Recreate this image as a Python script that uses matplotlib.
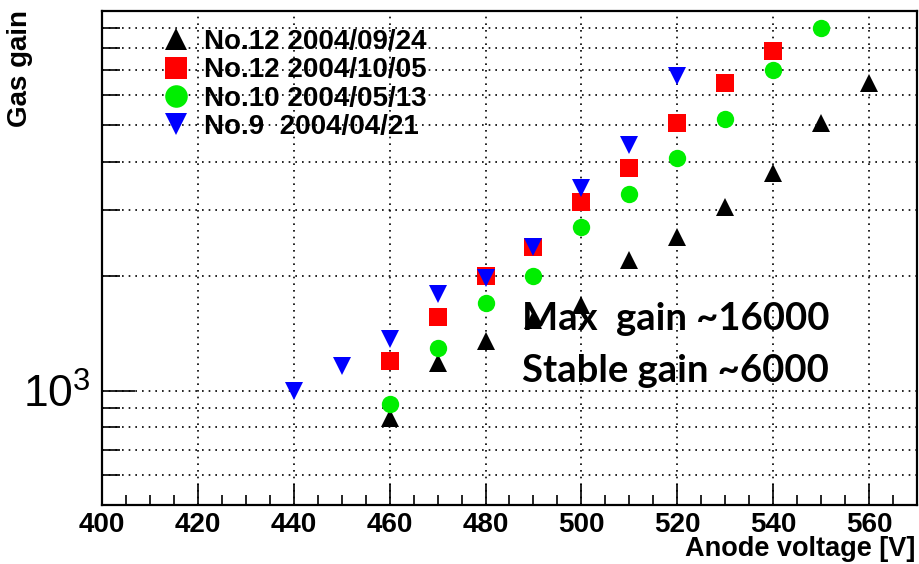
import numpy as np
import matplotlib.pyplot as plt
from matplotlib.ticker import FixedLocator, NullFormatter

plt.rcParams['font.family'] = ['Liberation Sans', 'DejaVu Sans']
plt.rcParams['mathtext.fontset'] = 'custom'
plt.rcParams['mathtext.rm'] = 'Liberation Sans'

# gas gain vs anode voltage
v_no12a = [460, 470, 480, 490, 500, 510, 520, 530, 540, 550, 560]
g_no12a = [845, 1183, 1354, 1537, 1684, 2212, 2543, 3050, 3747, 5074, 6465]

v_no12b = [460, 470, 480, 490, 500, 510, 520, 530, 540]
g_no12b = [1194, 1563, 2007, 2389, 3138, 3870, 5063, 6452, 7834]

v_no10 = [460, 470, 480, 490, 500, 510, 520, 530, 540, 550]
g_no10 = [923, 1295, 1701, 2000, 2702, 3299, 4104, 5198, 6997, 9003]

v_no9 = [440, 450, 460, 470, 480, 490, 500, 510, 520]
g_no9 = [1000, 1163, 1368, 1793, 1983, 2389, 3428, 4440, 6756]

labels = ['No.12 2004/09/24', 'No.12 2004/10/05', 'No.10 2004/05/13', 'No.9  2004/04/21']

fig = plt.figure(figsize=(9.2, 5.64), dpi=100)
ax = fig.add_axes([102/920, 1-505/564, 815/920, 494/564])

ms = 12.5
ax.plot(v_no12a, g_no12a, '^', color='black', ms=ms, mew=0, label=labels[0])
ax.plot(v_no12b, g_no12b, 's', color='red', ms=ms, mew=0, label=labels[1])
ax.plot(v_no10, g_no10, 'o', color='#00ee00', ms=ms, mew=0, label=labels[2])
ax.plot(v_no9, g_no9, 'v', color='blue', ms=ms, mew=0, label=labels[3])

ax.set_yscale('log')
ax.set_xlim(400, 570)
ax.set_ylim(500, 10000)

ax.set_xticks(np.arange(400, 561, 20))
ax.set_xticks(np.arange(405, 570, 5), minor=True)
ax.tick_params(axis='x', which='major', direction='in', length=15, width=1.2,
               labelsize=20, pad=5)
ax.tick_params(axis='x', which='minor', direction='in', length=7, width=1.2)
for t in ax.get_xticklabels():
    t.set_fontweight('bold')

ax.yaxis.set_major_locator(FixedLocator([1000]))
ax.yaxis.set_minor_locator(FixedLocator([600, 700, 800, 900, 2000, 3000, 4000,
                                         5000, 6000, 7000, 8000, 9000]))
ax.yaxis.set_minor_formatter(NullFormatter())
ax.set_yticklabels(['$10^3$'])
ax.tick_params(axis='y', which='major', direction='in', length=24, width=1.2,
               labelsize=32, pad=8)
ax.tick_params(axis='y', which='minor', direction='in', length=13, width=1.2)

ax.grid(True, which='major', axis='x', color='black', linestyle=(0, (1, 3)), linewidth=1.2)
ax.grid(True, which='both', axis='y', color='black', linestyle=(0, (1, 3)), linewidth=1.2)
ax.set_axisbelow(True)
for s in ax.spines.values():
    s.set_linewidth(1.6)

leg = ax.legend(loc='upper left', bbox_to_anchor=(0.036, 1.014), frameon=False,
                prop={'weight': 'bold', 'size': 20}, markerscale=1.3,
                handletextpad=0.3, labelspacing=0.08, handlelength=1.4)

ax.text(487.7, 1542, 'Max  gain ~16000', family='Lato', fontweight='bold',
        fontsize=27.5, va='center', ha='left', zorder=10)
ax.text(487.7, 1130, 'Stable gain ~6000', family='Lato', fontweight='bold',
        fontsize=27.5, va='center', ha='left', zorder=10)

fig.text(20/920, 1-10/564, 'Gas gain', rotation=90, ha='center', va='top',
         fontsize=20, fontweight='bold')
fig.text(915/920, 1-556/564, 'Anode voltage [V]', ha='right', va='baseline',
         fontsize=19.5, fontweight='bold')

fig.savefig('out.png', dpi=100)
